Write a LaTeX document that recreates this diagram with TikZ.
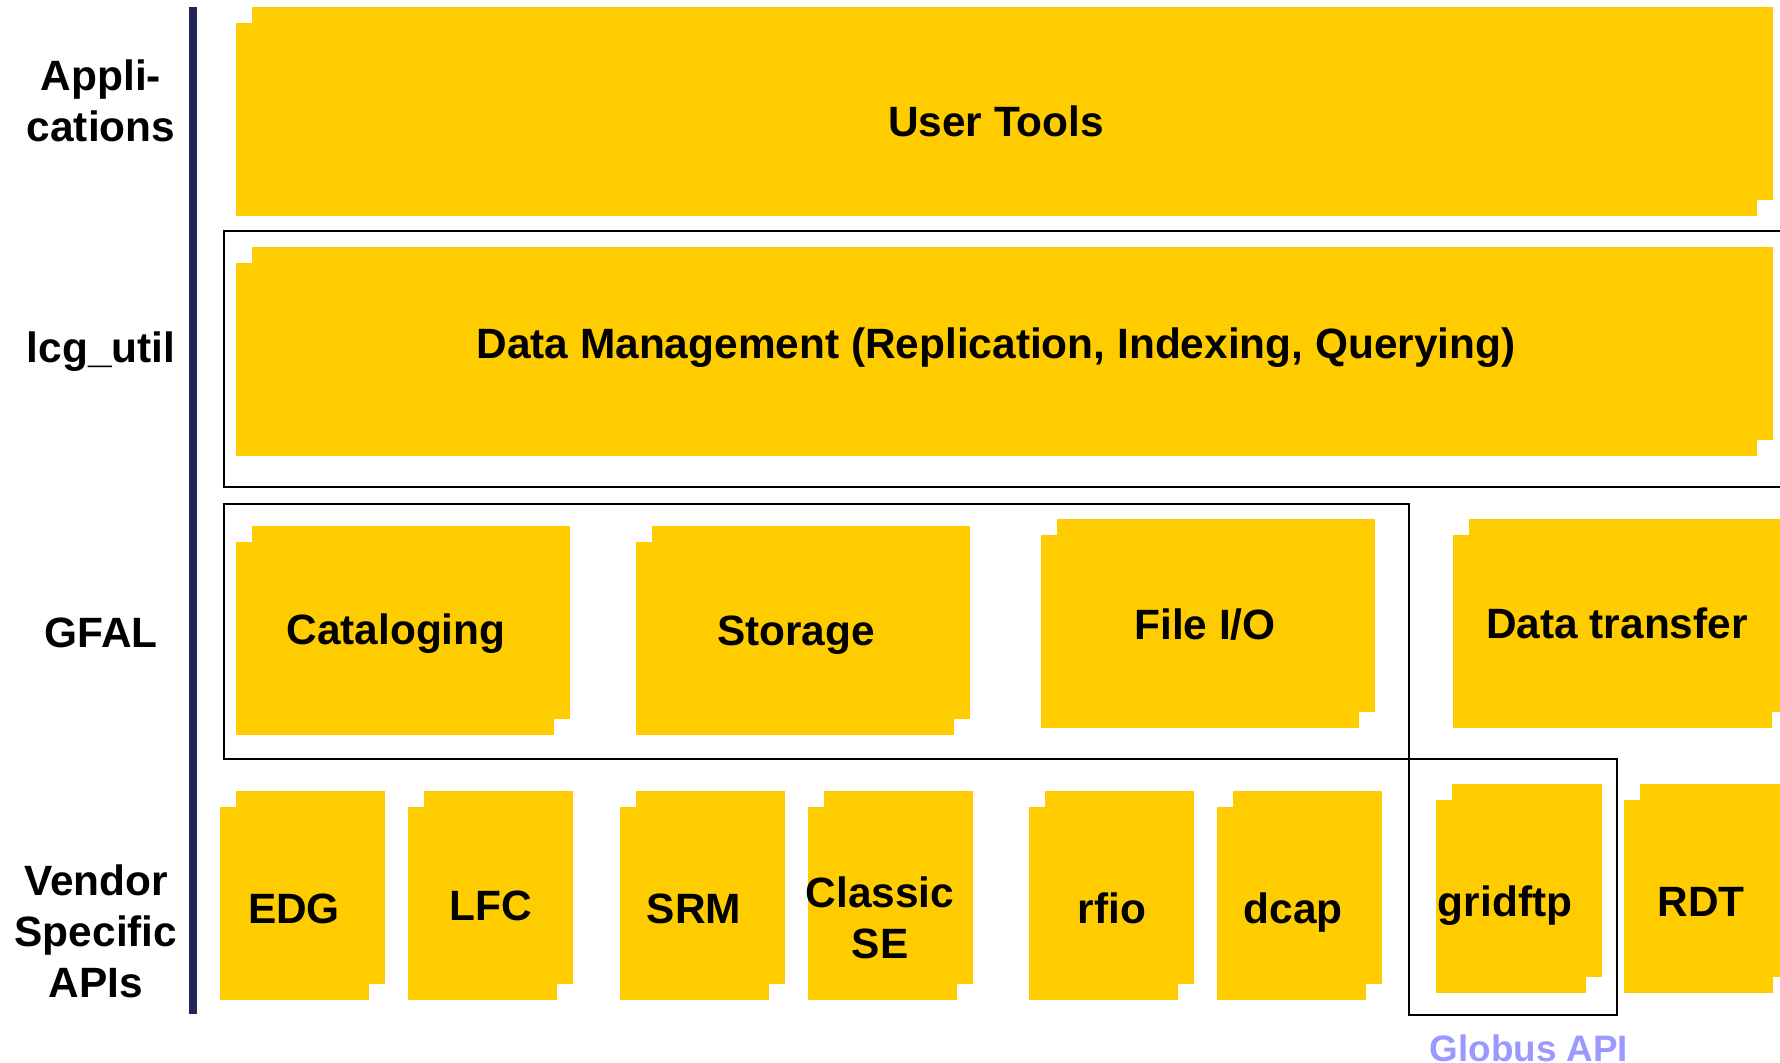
\documentclass[tikz,border=0pt]{standalone}
\usepackage{fontspec}
\setmainfont{Liberation Sans}
\definecolor{boxyellow}{RGB}{255,204,0}
\definecolor{barnavy}{RGB}{35,36,90}
\definecolor{globusblue}{RGB}{153,153,255}
\tikzset{
  lbl/.style={font=\bfseries\fontsize{21.2}{25.5}\selectfont, inner sep=0pt, anchor=base},
  sidelbl/.style={lbl, align=center},
  framebox/.style={draw=black, line width=1.2pt},
  apiname/.style={font=\bfseries\fontsize{18.4}{22}\selectfont, inner sep=0pt, anchor=base, text=globusblue},
}
\newcommand\yellowbox[4]{%
  \fill[boxyellow] (#1+16,#2) rectangle (#3,#4-16);
  \fill[boxyellow] (#1,#2+16) rectangle (#3-16,#4);}
\begin{document}
\begin{tikzpicture}[x=0.5pt,y=-0.5pt]
\useasboundingbox (0,0) rectangle (1780,1063);
\clip (0,0) rectangle (1780,1063);
\fill[white] (0,0) rectangle (1780,1063);

% layer bar
\fill[barnavy] (189,7) rectangle (197,1014);

% frames
\draw[framebox] (224,231) rectangle (1800,487);
\draw[framebox] (224,504) rectangle (1409,759);
\draw[framebox] (1409,759) rectangle (1617,1015);

% yellow boxes
\yellowbox{236}{7}{1773}{216}
\yellowbox{236}{247}{1773}{456}
\yellowbox{236}{526}{570}{735}
\yellowbox{636}{526}{970}{735}
\yellowbox{1041}{519}{1375}{728}
\yellowbox{1453}{519}{1788}{728}
\yellowbox{220}{791}{385}{1000}
\yellowbox{408}{791}{573}{1000}
\yellowbox{620}{791}{785}{1000}
\yellowbox{808}{791}{973}{1000}
\yellowbox{1029}{791}{1194}{1000}
\yellowbox{1217}{791}{1382}{1000}
\yellowbox{1436}{784}{1602}{993}
\yellowbox{1624}{784}{1789}{993}

% box labels
\node[lbl] (usertools) at (996,137) {User Tools};
\node[lbl] (datamgmt) at (996,359) {Data Management (Replication, Indexing, Querying)};
\node[lbl] (cataloging) at (396,644) {Cataloging};
\node[lbl] (storage) at (796,645) {Storage};
\node[lbl] (fileio) at (1205,639) {File I/O};
\node[lbl] (datatransfer) at (1617,638) {Data transfer};
\node[lbl] (edg) at (294,923) {EDG};
\node[lbl] (lfc) at (491,920) {LFC};
\node[lbl] (srm) at (694,923) {SRM};
\node[sidelbl] (classicse) at (880,958) {Classic\\SE};
\node[lbl] (rfio) at (1112,923) {rfio};
\node[lbl] (dcap) at (1293,923) {dcap};
\node[lbl] (gridftp) at (1505,916) {gridftp};
\node[lbl] (rdt) at (1701,916) {RDT};
\node[apiname] (globusapi) at (1529,1061) {Globus API};

% layer labels
\node[sidelbl] (applications) at (101,142) {Appli-\\cations};
\node[sidelbl] (lcgutil) at (101,363) {lcg\_util};
\node[sidelbl] (gfal) at (101,647) {GFAL};
\node[sidelbl] (vendor) at (96,997) {Vendor\\Specific\\APIs};
\end{tikzpicture}
\end{document}
